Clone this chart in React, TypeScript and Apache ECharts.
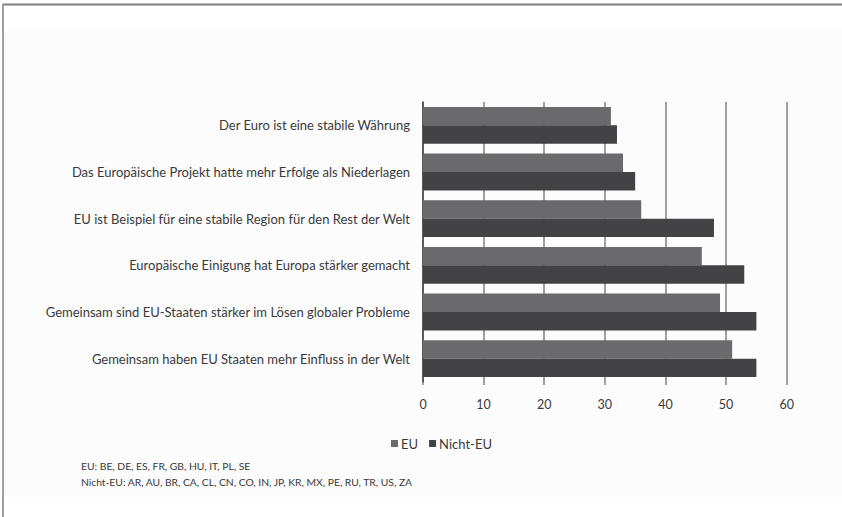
import React, { useEffect, useRef } from "react";
import * as echarts from "echarts";

const categories = [
  "Der Euro ist eine stabile Währung",
  "Das Europäische Projekt hatte mehr Erfolge als Niederlagen",
  "EU ist Beispiel für eine stabile Region für den Rest der Welt",
  "Europäische Einigung hat Europa stärker gemacht",
  "Gemeinsam sind EU-Staaten stärker im Lösen globaler Probleme",
  "Gemeinsam haben EU Staaten mehr Einfluss in der Welt",
];
const euValues = [31, 33, 36, 46, 49, 51];
const nichtEuValues = [32, 35, 48, 53, 55, 55];
const seriesNames = ["EU", "Nicht-EU"];
const footnotes = [
  "EU: BE, DE, ES, FR, GB, HU, IT, PL, SE",
  "Nicht-EU: AR, AU, BR, CA, CL, CN, CO, IN, JP, KR, MX, PE, RU, TR, US, ZA",
];

const FONT = "Lato";

export default function App() {
  const ref = useRef<HTMLDivElement>(null);
  useEffect(() => {
    if (!ref.current) return;
    const chart = echarts.init(ref.current, null, { renderer: "svg" });
    chart.setOption({
      animation: false,
      backgroundColor: "#ffffff",
      textStyle: { fontFamily: FONT },
      grid: { left: 423, right: 55.3, top: 102, bottom: 135, containLabel: false },
      legend: {
        data: seriesNames,
        left: 386,
        top: 432,
        itemWidth: 7,
        itemHeight: 7,
        itemGap: 11,
        icon: "rect",
        textStyle: { fontFamily: FONT, fontSize: 13, color: "#3a3a3a", padding: [0, 0, 0, -2] },
      },
      xAxis: {
        type: "value",
        min: 0,
        max: 60,
        interval: 10,
        axisLine: { show: false },
        axisTick: { show: true, length: 3, lineStyle: { color: "#888", width: 1.6 } },
        splitLine: { show: true, lineStyle: { color: "#888", width: 1.6 } },
        axisLabel: { fontFamily: FONT, fontSize: 12.5, color: "#3a3a3a", margin: 16 },
      },
      yAxis: {
        type: "category",
        inverse: true,
        data: categories,
        axisLine: { show: true, lineStyle: { color: "#4a4a4a", width: 1.6 } },
        axisTick: { show: false },
        axisLabel: { fontFamily: FONT, fontSize: 13, color: "#3a3a3a", margin: 13 },
      },
      series: [
        {
          name: seriesNames[0],
          type: "bar",
          data: euValues,
          itemStyle: { color: "#6a6a6c" },
          barGap: "0%",
          barCategoryGap: "21%",
        },
        {
          name: seriesNames[1],
          type: "bar",
          data: nichtEuValues,
          itemStyle: { color: "#434345" },
          barGap: "0%",
          barCategoryGap: "21%",
        },
      ],
      graphic: [
        { type: "rect", z: -10, shape: { x: 4, y: 28, width: 838, height: 469 }, style: { fill: "#fcfcfc" } },
        { type: "line", shape: { x1: 3, y1: 4.5, x2: 842, y2: 4.5 }, style: { stroke: "#808080", lineWidth: 2 } },
        { type: "line", shape: { x1: 3, y1: 4, x2: 3, y2: 517 }, style: { stroke: "#808080", lineWidth: 1.5 } },
        {
          type: "text",
          left: 81,
          top: 461,
          style: { text: footnotes[0], fontFamily: FONT, fontSize: 10.3, fill: "#3a3a3a" },
        },
        {
          type: "text",
          left: 81,
          top: 477,
          style: { text: footnotes[1], fontFamily: FONT, fontSize: 10.3, fill: "#3a3a3a" },
        },
      ],
    });
    return () => chart.dispose();
  }, []);
  return (
    <div
      ref={ref}
      style={{ position: "fixed", left: 0, top: 0, width: 842, height: 517 }}
    />
  );
}
